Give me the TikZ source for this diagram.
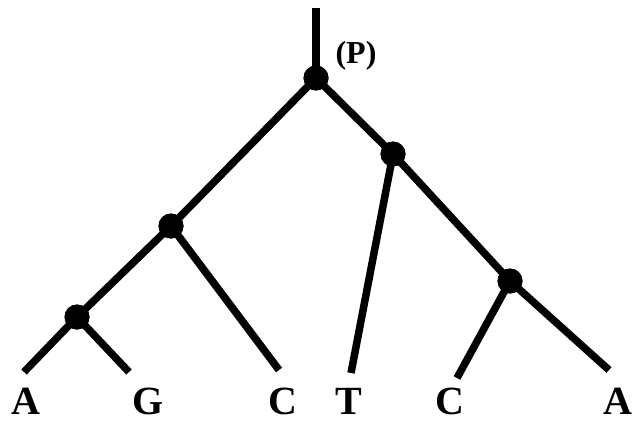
\documentclass[tikz,border=0pt]{standalone}
\usepackage{fontspec}
\setmainfont{Liberation Serif}
\begin{document}
\begin{tikzpicture}[x=1pt,y=-1pt,
  branch/.style={line width=7.5pt},
  dot/.style={circle,fill=black,inner sep=0pt,minimum size=25pt},
  leaf/.style={anchor=base,font=\fontsize{40}{40}\selectfont\bfseries,inner sep=0pt,text depth=0pt}]
\useasboundingbox (0,0) rectangle (634,423);
% internal nodes
\node[dot] (root) at (316,78) {};
\node[dot] (R) at (393,154) {};
\node[dot] (L) at (171,226) {};
\node[dot] (LR) at (510,281) {};
\node[dot] (LL) at (77,317) {};
% free ends
\coordinate (top) at (316,8);
\coordinate (eA) at (24,372);
\coordinate (eG) at (129,372);
\coordinate (eC) at (279,370);
\coordinate (eT) at (351,373);
\coordinate (eC2) at (457,378);
\coordinate (eA2) at (609,370);
% branches
\draw[branch] (top) -- (root.center);
\draw[branch] (root.center) -- (L.center);
\draw[branch] (root.center) -- (R.center);
\draw[branch] (L.center) -- (LL.center);
\draw[branch] (L.center) -- (eC);
\draw[branch] (LL.center) -- (eA);
\draw[branch] (LL.center) -- (eG);
\draw[branch] (R.center) -- (eT);
\draw[branch] (R.center) -- (LR.center);
\draw[branch] (LR.center) -- (eC2);
\draw[branch] (LR.center) -- (eA2);
% redraw dots on top
\foreach \n in {root,R,L,LR,LL} \fill (\n) circle (12.5pt);
% labels
\node[anchor=base,font=\fontsize{32}{32}\selectfont\bfseries,inner sep=0pt] (P) at (356,63) {(P)};
\node[leaf] (lA) at (26,414) {A};
\node[leaf] (lG) at (148,414) {G};
\node[leaf] (lC) at (283,414) {C};
\node[leaf] (lT) at (349,414) {T};
\node[leaf] (lC2) at (450,414) {C};
\node[leaf] (lA2) at (618,414) {A};
\end{tikzpicture}
\end{document}
